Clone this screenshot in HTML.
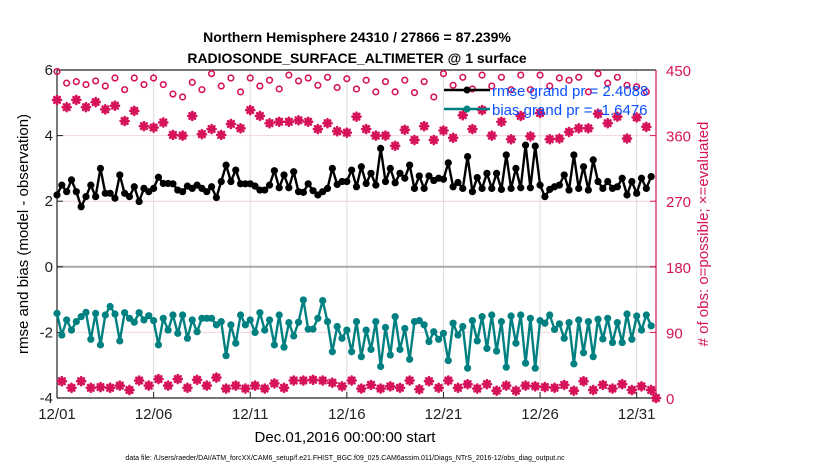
<!DOCTYPE html>
<html><head><meta charset="utf-8">
<style>
body{margin:0;background:#fff;}
svg{display:block;font-family:"Liberation Sans",Arial,sans-serif;}
</style></head>
<body>
<svg id="chart" width="830" height="470" viewBox="0 0 830 470" xmlns="http://www.w3.org/2000/svg">
<rect width="830" height="470" fill="#fff"/>
<g id="grid"></g>
<g id="axes"></g>
<g id="series"></g>
<text x="357" y="42" font-size="14" font-weight="bold" text-anchor="middle">Northern Hemisphere 24310 / 27866 = 87.239%</text>
<text x="357" y="63" font-size="14" font-weight="bold" text-anchor="middle">RADIOSONDE_SURFACE_ALTIMETER @ 1 surface</text>
<text transform="translate(28,234) rotate(-90)" font-size="15" text-anchor="middle">rmse and bias (model - observation)</text>
<text transform="translate(708,234) rotate(-90)" font-size="15" text-anchor="middle" fill="#d6135a"># of obs: o=possible; ×=evaluated</text>
<text x="345" y="442" font-size="15" text-anchor="middle">Dec.01,2016 00:00:00 start</text>
<text x="345" y="460" font-size="7" text-anchor="middle">data file: /Users/raeder/DAI/ATM_forcXX/CAM6_setup/f.e21.FHIST_BGC.f09_025.CAM6assim.011/Diags_NTrS_2016-12/obs_diag_output.nc</text>
<g id="legend">
  <g>
    <line x1="444" y1="90" x2="490" y2="90" stroke="#000" stroke-width="2.5"/>
    <circle cx="467" cy="90" r="3.5" fill="#000"/>
    <text x="492" y="96" font-size="15" fill="#0a50ff">rmse grand pr = 2.4088</text>
  </g>
  <g>
    <line x1="444" y1="109" x2="490" y2="109" stroke="#008080" stroke-width="2.5"/>
    <circle cx="467" cy="109" r="3.5" fill="#008080"/>
    <text x="492" y="115" font-size="15" fill="#0a50ff">bias grand pr = -1.6476</text>
  </g>
</g>
</svg>
<script>
// rmse (6-hourly, 124 values)
const rmse = [2.19,2.49,2.29,2.65,2.29,1.83,2.14,2.49,2.14,3.0,2.24,2.24,2.09,2.80,2.24,2.14,2.44,1.99,2.39,2.29,2.39,2.73,2.54,2.54,2.53,2.34,2.29,2.46,2.39,2.49,2.39,2.29,2.44,2.11,2.60,3.10,2.60,2.95,2.53,2.53,2.53,2.46,2.34,2.34,2.49,2.93,2.41,2.80,2.41,2.90,2.29,2.27,2.53,2.32,2.19,2.29,2.39,3.0,2.51,2.60,2.60,2.95,2.44,
3.05,2.54,2.85,2.49,3.61,2.60,3.0,2.56,2.85,2.70,3.10,2.39,2.77,2.39,2.77,2.63,2.70,2.67,3.17,2.44,2.57,2.39,3.36,2.29,2.72,2.39,2.85,2.39,2.85,2.36,3.41,2.39,3.0,2.41,3.71,2.41,3.68,2.49,2.14,2.36,2.44,2.49,2.80,2.34,3.41,2.39,3.05,2.34,3.26,2.60,2.39,2.60,2.39,2.44,2.70,2.19,2.60,2.24,2.70,2.39,2.75];
const bias = [-1.42,-2.08,-1.62,-1.93,-1.67,-1.52,-1.39,-2.21,-1.42,-2.38,-1.47,-1.21,-1.44,-2.26,-1.40,-1.57,-1.69,-1.40,-1.62,-1.49,-1.64,-2.38,-1.57,-1.93,-1.47,-2.03,-1.47,-2.18,-1.62,-1.98,-1.57,-1.57,-1.57,-1.77,-1.67,-2.71,-1.77,-2.33,-1.47,-1.77,-1.62,-2.00,-1.40,-1.93,-1.62,-2.38,-1.47,-2.45,-1.70,-2.11,-1.69,-1.01,-1.90,-1.90,-1.57,-1.03,-1.67,-2.59,-1.82,-2.18,-1.93,-2.59,-1.67,
-2.74,-1.93,-2.52,-1.67,-3.04,-1.85,-2.69,-1.52,-2.52,-1.88,-2.82,-1.67,-1.64,-1.77,-2.28,-1.98,-2.21,-2.03,-2.86,-1.72,-2.08,-1.82,-3.09,-1.64,-2.26,-1.52,-2.49,-1.47,-2.57,-1.67,-3.06,-1.50,-2.33,-1.47,-2.94,-1.57,-3.09,-1.64,-1.72,-1.47,-1.91,-1.74,-2.18,-1.70,-2.96,-1.62,-2.62,-1.67,-2.74,-1.60,-2.20,-1.57,-2.31,-1.70,-2.31,-1.44,-2.21,-1.50,-1.93,-1.47,-1.80];
// obs counts at 00Z/12Z (even steps) and 06Z/18Z (odd steps)
const possibleMain = [448,432,434,430,435,428,439,423,439,430,439,430,417,413,433,423,445,428,439,420,439,428,436,424,443,435,439,429,440,426,438,424,436,420,434,420,436,419,434,413,445,429,440,424,443,428,440,423,443,423,443,428,439,436,440,420,445,432,440,429,427,420];
const evaluatedMain = [409,399,409,399,406,396,401,380,394,373,371,378,361,360,387,362,369,361,376,370,395,387,377,379,379,381,379,369,377,366,364,386,369,360,360,346,368,354,373,354,367,357,388,369,395,360,379,355,387,359,391,355,356,365,370,370,390,377,386,356,385,372];
const countsOff = [23,14,23,14,15,14,17,11,24,17,26,17,26,14,25,17,28,13,17,13,17,13,20,14,24,24,25,24,21,16,24,13,18,13,16,14,24,12,23,14,24,14,19,13,19,10,17,10,17,16,15,14,18,10,23,11,18,13,19,11,16,11];
const xTickLabels = ["12/01","12/06","12/11","12/16","12/21","12/26","12/31"];
const xTickDays = [0,5,10,15,20,25,30];
const yTicks = [-4,-2,0,2,4,6];
const yRightTicks = [0,90,180,270,360,450];

const NS="http://www.w3.org/2000/svg";
const X0=57,X1=656,Y0=70,Y1=398,TMAX=31;
function xs(t){return X0+(t/TMAX)*(X1-X0);}
function ys(v){return Y1-(v+4)/10*(Y1-Y0);}
function yr(c){return Y1-c/450*(Y1-Y0);}
function mk(tag,attrs,parent){const e=document.createElementNS(NS,tag);for(const k in attrs)e.setAttribute(k,attrs[k]);parent.appendChild(e);return e;}
const grid=document.getElementById('grid'),axes=document.getElementById('axes'),ser=document.getElementById('series');
const RED="#d6135a";

xTickDays.forEach((d,i)=>{
  const l=mk('line',{x1:xs(d),x2:xs(d),y1:Y0,y2:Y1,stroke:'#dcdcdc','stroke-width':1},grid);
  
  
  const tk=mk('line',{x1:xs(d),x2:xs(d),y1:Y1,y2:Y1-6,stroke:'#222'},axes);
  
  
  const t=mk('text',{x:xs(d),y:Y1+21,'font-size':15,'text-anchor':'middle',fill:'#222'},axes);
  t.textContent=xTickLabels[i];
  
  
});
yTicks.forEach(v=>{
  if(v!==-4&&v!==6&&v!==0){
    const g=mk('line',{x1:X0,x2:X1,y1:ys(v),y2:ys(v),stroke:'#f0d4de','stroke-width':1},grid);
    
    
  }
  const t=mk('text',{x:X0-4,y:ys(v)+5,'font-size':15,'text-anchor':'end',fill:'#222'},axes);
  t.textContent=v;
  
  
  const tk=mk('line',{x1:X0,x2:X0+6,y1:ys(v),y2:ys(v),stroke:'#222'},axes);
  
  
});
yRightTicks.forEach(c=>{
  const t=mk('text',{x:X1+10,y:yr(c)+6,'font-size':15,fill:RED},axes);
  t.textContent=c;
  
  
  const tk=mk('line',{x1:X1,x2:X1-6,y1:yr(c),y2:yr(c),stroke:RED},axes);
  
  
});
const zl=mk('line',{x1:X0,x2:X1,y1:ys(0),y2:ys(0),stroke:'#a8a8a8','stroke-width':2},grid);


const ax=[[X0,Y0,X1,Y0,'#222'],[X0,Y1,X1,Y1,'#222'],[X0,Y0,X0,Y1,'#222'],[X1,Y0,X1,Y1,RED]];
ax.forEach(a=>{const l=mk('line',{x1:a[0],y1:a[1],x2:a[2],y2:a[3],stroke:a[4],'stroke-width':1.2},axes);
  
  });

function star(cx,cy,p){
  const g=mk('g',{stroke:RED,'stroke-width':2.6,'stroke-linecap':'round'},p);
  
  
  const r=4;
  mk('line',{x1:cx-r,y1:cy,x2:cx+r,y2:cy},g);
  mk('line',{x1:cx,y1:cy-r,x2:cx,y2:cy+r},g);
  mk('line',{x1:cx-2.8,y1:cy-2.8,x2:cx+2.8,y2:cy+2.8},g);
  mk('line',{x1:cx-2.8,y1:cy+2.8,x2:cx+2.8,y2:cy-2.8},g);
}
// counts
const cg=mk('g',{},ser);


possibleMain.forEach((c,k)=>{
  const t=(2*k)/4;
  const o=mk('circle',{cx:xs(t),cy:yr(c),r:2.8,fill:'none',stroke:RED,'stroke-width':1.6},cg);
  
  
  star(xs(t),yr(evaluatedMain[k]),cg);
});
countsOff.forEach((c,k)=>{
  const t=(2*k+1)/4;
  const o=mk('circle',{cx:xs(t),cy:yr(c),r:2.8,fill:'none',stroke:RED,'stroke-width':1.6},cg);
  
  
  star(xs(t),yr(c),cg);
});
star(xs(31),yr(0),cg);

function drawLine(vals,color,name){
  const g=mk('g',{},ser);
  
  
  const pts=vals.map((v,i)=>xs(i/4).toFixed(1)+','+ys(v).toFixed(1)).join(' ');
  const pl=mk('polyline',{points:pts,fill:'none',stroke:color,'stroke-width':2.4,'stroke-linejoin':'round'},g);
  
  
  vals.forEach((v,i)=>{
    const c=mk('circle',{cx:xs(i/4),cy:ys(v),r:3.6,fill:color},g);
    
    
  });
}
drawLine(rmse,'#000','rmse-series');
drawLine(bias,'#008080','bias-series');
</script>
</body></html>
